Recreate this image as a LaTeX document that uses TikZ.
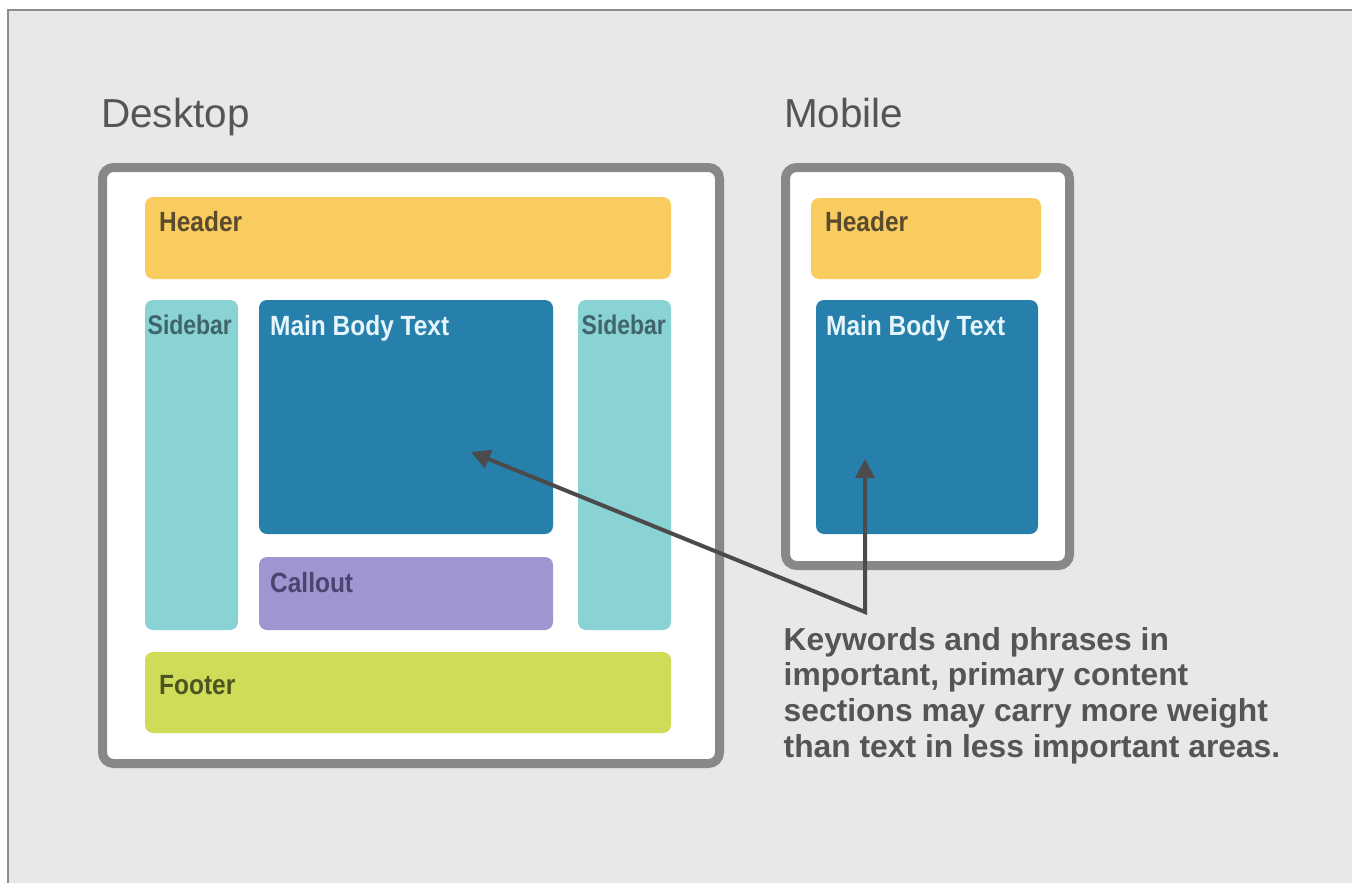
\documentclass[tikz,border=0pt]{standalone}
\usepackage{fontspec}
\setmainfont{Liberation Sans}
\newfontfamily\condf[FakeStretch=0.88]{Liberation Sans}
\newfontfamily\condside[FakeStretch=0.85]{Liberation Sans}
\usetikzlibrary{arrows.meta}
\definecolor{bggray}{HTML}{E8E8E8}
\definecolor{framegray}{HTML}{8C8C8C}
\definecolor{boxgray}{HTML}{888888}
\definecolor{titlegray}{HTML}{555555}
\definecolor{hdrfill}{HTML}{F8CC5F}
\definecolor{hdrtext}{HTML}{5A4A2E}
\definecolor{sidefill}{HTML}{89D3D5}
\definecolor{sidetext}{HTML}{3F6469}
\definecolor{mainfill}{HTML}{2680AB}
\definecolor{maintext}{HTML}{E6F5FB}
\definecolor{callfill}{HTML}{9F95D1}
\definecolor{calltext}{HTML}{4B4470}
\definecolor{footfill}{HTML}{CEDC58}
\definecolor{foottext}{HTML}{4D5321}
\definecolor{arrowgray}{HTML}{4D4A4B}
\begin{document}
\begin{tikzpicture}[x=1pt,y=-1pt,
  outerbox/.style={draw=boxgray, fill=white, line width=9pt, rounded corners=11pt,
    inner sep=0pt, outer sep=0pt, anchor=north west},
  blockbox/.style={rounded corners=8pt, inner sep=0pt, outer sep=0pt, anchor=north west},
  titletext/.style={anchor=base west, inner sep=0pt, text=titlegray,
    font=\fontsize{40.5}{45}\selectfont},
  blocktext/.style={anchor=base west, inner sep=0pt,
    font=\condf\bfseries\fontsize{27.8}{30}\selectfont},
  sidetextstyle/.style={anchor=base west, inner sep=0pt, text=sidetext,
    font=\condside\bfseries\fontsize{27}{30}\selectfont},
  notetext/.style={anchor=north west, inner sep=0pt, align=left, text=titlegray,
    font=\bfseries\fontsize{31.8}{35.7}\selectfont},
  pointer/.style={draw=arrowgray, line width=4pt, line join=miter,
    {Triangle[length=19pt,width=19pt]}-{Triangle[length=19pt,width=19pt]}}
]
\useasboundingbox (0,0) rectangle (1352,883);
\fill[white] (0,0) rectangle (1352,883);
\fill[bggray] (8,10) rectangle (1352,883);
\draw[framegray, line width=2pt] (8,883) -- (8,10) -- (1352,10);

% titles
\node[titletext] (desktopT) at (101,127) {Desktop};
\node[titletext] (mobileT) at (784,127) {Mobile};

% frames
\node[outerbox, minimum width=617pt, minimum height=596pt] (dbox) at (102.5,167.5) {};
\node[outerbox, minimum width=284pt, minimum height=398pt] (mbox) at (785.5,167.5) {};

% desktop blocks
\node[blockbox, fill=hdrfill, minimum width=526pt, minimum height=82pt] (dhead) at (145,197) {};
\node[blockbox, fill=sidefill, minimum width=93pt, minimum height=330pt] (dsideL) at (145,300) {};
\node[blockbox, fill=mainfill, minimum width=294pt, minimum height=234pt] (dmain) at (259,300) {};
\node[blockbox, fill=sidefill, minimum width=93pt, minimum height=330pt] (dsideR) at (578,300) {};
\node[blockbox, fill=callfill, minimum width=294pt, minimum height=73pt] (dcall) at (259,557) {};
\node[blockbox, fill=footfill, minimum width=526pt, minimum height=81pt] (dfoot) at (145,652) {};

% mobile blocks
\node[blockbox, fill=hdrfill, minimum width=230pt, minimum height=81pt] (mhead) at (811,198) {};
\node[blockbox, fill=mainfill, minimum width=222pt, minimum height=234pt] (mmain) at (816,300) {};

% block labels
\node[blocktext, text=hdrtext] (dheadT) at (159,231) {Header};
\node[sidetextstyle] (dsideLT) at (147.5,334) {Sidebar};
\node[blocktext, text=maintext] (dmainT) at (270,335) {Main Body Text};
\node[sidetextstyle] (dsideRT) at (581.5,334) {Sidebar};
\node[blocktext, text=calltext] (dcallT) at (270,592) {Callout};
\node[blocktext, text=foottext] (dfootT) at (159,694) {Footer};
\node[blocktext, text=hdrtext] (mheadT) at (825,231) {Header};
\node[blocktext, text=maintext] (mmainT) at (826,335) {Main Body Text};

% note
\node[notetext] (note) at (783.5,627) {Keywords and phrases in\\important, primary content\\sections may carry more weight\\than text in less important areas.};

% pointers
\coordinate (joint) at (865,612);
\coordinate (dtip) at (471,452);
\coordinate (mtip) at (865,459);
\draw[pointer] (dtip) -- (joint) -- (mtip);
\end{tikzpicture}
\end{document}
